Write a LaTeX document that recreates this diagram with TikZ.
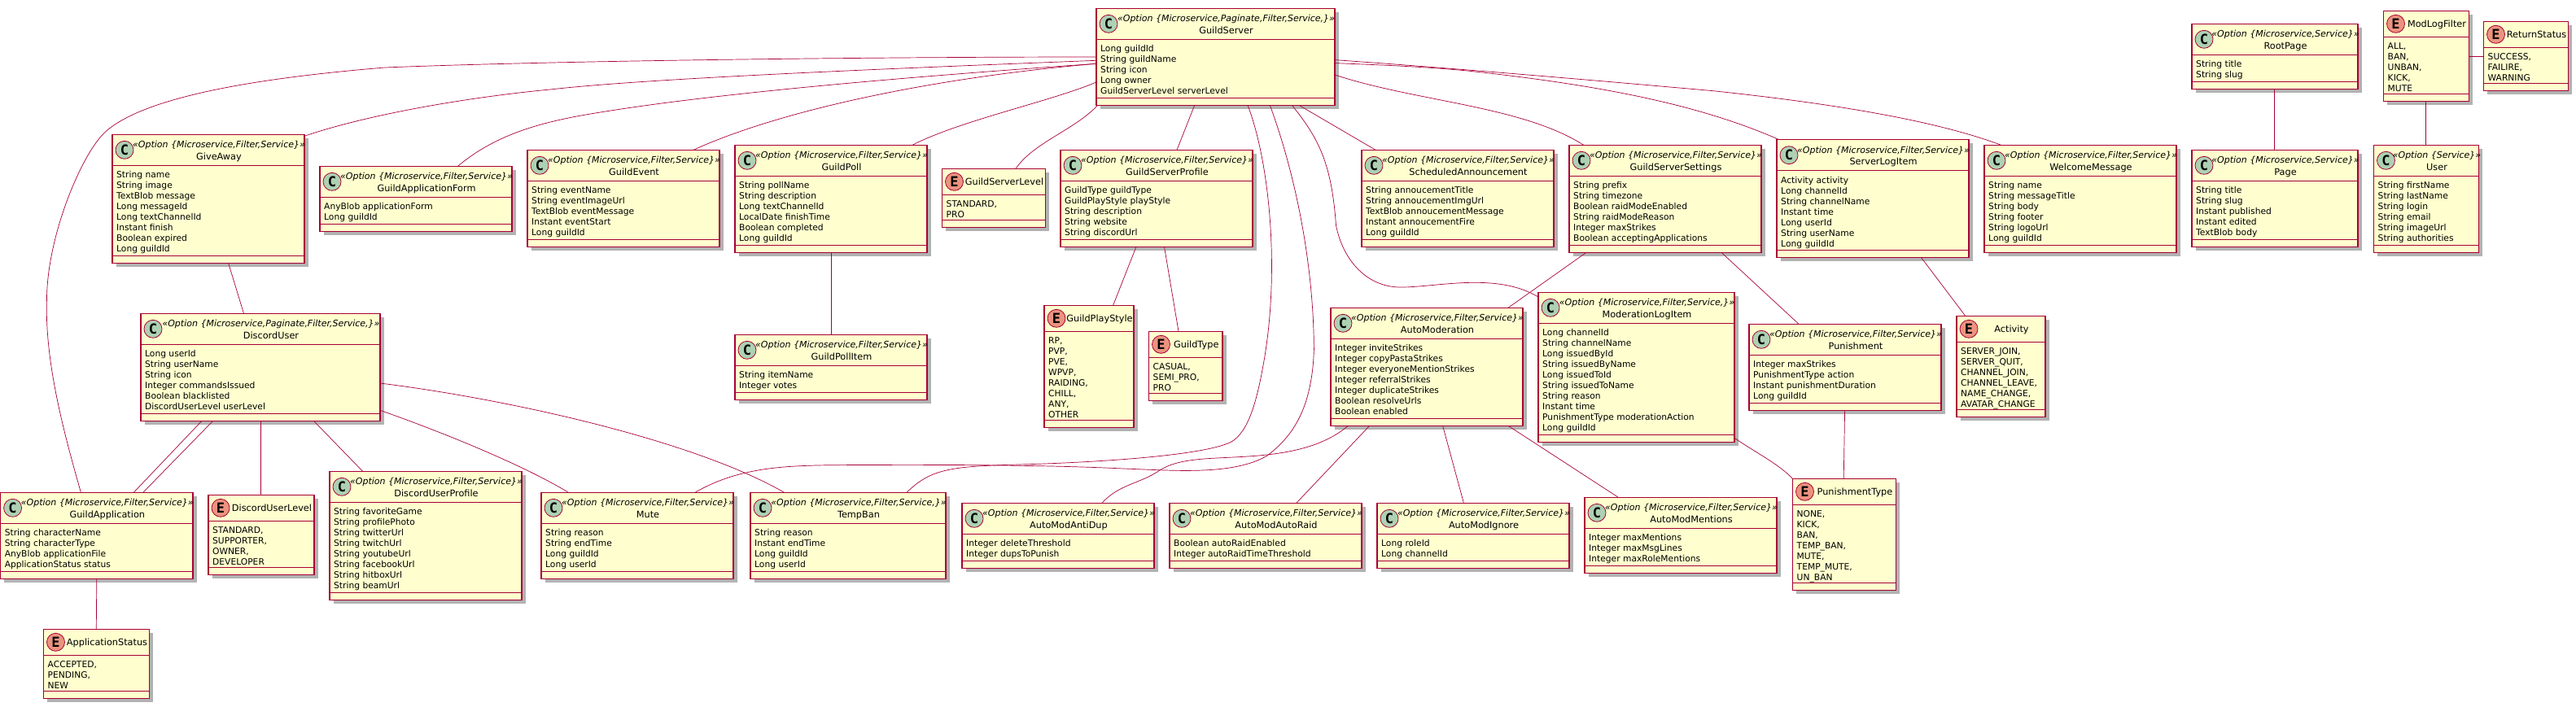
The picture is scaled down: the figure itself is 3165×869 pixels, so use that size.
\documentclass[tikz,border=0pt]{standalone}
\usepackage{fontspec}
\setmainfont{DejaVu Sans}
\setmonofont{DejaVu Sans Mono}
\usetikzlibrary{positioning,shadows}
\definecolor{umlline}{HTML}{A80036}
\definecolor{umlfill}{HTML}{FEFECE}
\definecolor{spotclass}{HTML}{ADD1B2}
\definecolor{spotenum}{HTML}{EB937F}
\newcommand{\classhead}{38pt}
\newcommand{\enumhead}{32pt}
\newcommand{\classfoot}{9pt}
\newcommand{\rowheight}{13pt}
\tikzstyle{umlbody}=[fill=umlfill,draw=umlline,line width=1.1pt,shape=rectangle,anchor=north west,
                     inner sep=0pt,outer sep=0pt,
                     drop shadow={shadow xshift=4.5pt,shadow yshift=-4.5pt,fill=black,opacity=0.3}]
\tikzstyle{umlrule}=[draw=umlline,line width=1.1pt]
\tikzstyle{umlspot}=[shape=circle,draw=umlline,line width=0.8pt,minimum size=22pt,inner sep=0pt,
                     font=\ttfamily\bfseries\fontsize{17}{18}\selectfont]
\tikzstyle{stereo}=[inner sep=0pt,anchor=base,font=\itshape\fontsize{11}{13}\selectfont]
\tikzstyle{umltitle}=[inner sep=0pt,anchor=base,font=\fontsize{11.3}{13}\selectfont]
\tikzstyle{members}=[inner sep=0pt,anchor=north west,align=left,font=\fontsize{10.7}{13}\selectfont]
\tikzstyle{assoc}=[draw=umlline,line width=0.7pt]
\newcommand{\classbox}[8]{
\node [umlbody, minimum width=#4pt, minimum height=\classhead+\classfoot+7pt+#5*\rowheight] (#1) at (#2,#3) {};
\draw [umlrule] ([yshift=-\classhead]#1.north west) -- ([yshift=-\classhead]#1.north east);
\draw [umlrule] ([yshift=\classfoot]#1.south west) -- ([yshift=\classfoot]#1.south east);
\node [umlspot, fill=spotclass] (#1-spot) at ([xshift=15pt,yshift=-19pt]#1.north west) {C};
\node [stereo] (#1-stereo) at ([xshift=13pt,yshift=-16.5pt]#1.north) {«Option \{#6\}»};
\node [umltitle] (#1-title) at ([xshift=13pt,yshift=-31pt]#1.north) {#7};
\node [members] (#1-members) at ([xshift=5pt,yshift=-44pt]#1.north west) {\strut #8};
}
\newcommand{\enumbox}[7]{
\node [umlbody, minimum width=#4pt, minimum height=\enumhead+\classfoot+5pt+#5*\rowheight] (#1) at (#2,#3) {};
\draw [umlrule] ([yshift=-\enumhead]#1.north west) -- ([yshift=-\enumhead]#1.north east);
\draw [umlrule] ([yshift=\classfoot]#1.south west) -- ([yshift=\classfoot]#1.south east);
\node [umlspot, fill=spotenum] (#1-spot) at ([xshift=15pt,yshift=-16pt]#1.north west) {E};
\node [umltitle] (#1-title) at ([xshift=13pt,yshift=-20.5pt]#1.north) {#6};
\node [members] (#1-members) at ([xshift=5pt,yshift=-38pt]#1.north west) {\strut #7};
}
\begin{document}
\begin{tikzpicture}[x=1pt,y=-1pt]
\useasboundingbox (0,0) rectangle (3165,869);

\classbox{GuildServer}{1347}{10.3}{293}{5}{Microservice,Paginate,Filter,Service,}{GuildServer}{Long guildId\\String guildName\\String icon\\Long owner\\GuildServerLevel serverLevel}
\classbox{GiveAway}{138}{165.3}{236}{8}{Microservice,Filter,Service}{GiveAway}{String name\\String image\\TextBlob message\\Long messageId\\Long textChannelId\\Instant finish\\Boolean expired\\Long guildId}
\classbox{GuildApplicationForm}{393}{204.3}{236}{2}{Microservice,Filter,Service}{GuildApplicationForm}{AnyBlob applicationForm\\Long guildId}
\classbox{GuildEvent}{648}{184.3}{236}{5}{Microservice,Filter,Service}{GuildEvent}{String eventName\\String eventImageUrl\\TextBlob eventMessage\\Instant eventStart\\Long guildId}
\classbox{GuildPoll}{903}{178.3}{236}{6}{Microservice,Filter,Service}{GuildPoll}{String pollName\\String description\\Long textChannelId\\LocalDate finishTime\\Boolean completed\\Long guildId}
\classbox{GuildPollItem}{903}{411.3}{236}{2}{Microservice,Filter,Service}{GuildPollItem}{String itemName\\Integer votes}
\enumbox{GuildServerLevel}{1157.5}{207.3}{127}{2}{GuildServerLevel}{STANDARD,\\PRO}
\classbox{GuildServerProfile}{1303}{184.3}{236}{5}{Microservice,Filter,Service}{GuildServerProfile}{GuildType guildType\\GuildPlayStyle playStyle\\String description\\String website\\String discordUrl}
\enumbox{GuildPlayStyle}{1283}{375.3}{110}{8}{GuildPlayStyle}{RP,\\PVP,\\PVE,\\WPVP,\\RAIDING,\\CHILL,\\ANY,\\OTHER}
\enumbox{GuildType}{1411.5}{407.3}{90.5}{3}{GuildType}{CASUAL,\\SEMI\_PRO,\\PRO}
\classbox{ScheduledAnnouncement}{1673}{184.3}{236}{5}{Microservice,Filter,Service}{ScheduledAnnouncement}{String annoucementTitle\\String annoucementImgUrl\\TextBlob annoucementMessage\\Instant annoucementFire\\Long guildId}
\classbox{GuildServerSettings}{1928}{178.3}{236}{6}{Microservice,Filter,Service}{GuildServerSettings}{String prefix\\String timezone\\Boolean raidModeEnabled\\String raidModeReason\\Integer maxStrikes\\Boolean acceptingApplications}
\classbox{ServerLogItem}{2183}{171.7}{236}{7}{Microservice,Filter,Service}{ServerLogItem}{Activity activity\\Long channelId\\String channelName\\Instant time\\Long userId\\String userName\\Long guildId}
\classbox{WelcomeMessage}{2438}{178.3}{236}{6}{Microservice,Filter,Service}{WelcomeMessage}{String name\\String messageTitle\\String body\\String footer\\String logoUrl\\Long guildId}
\classbox{RootPage}{2693}{29.3}{204}{2}{Microservice,Service}{RootPage}{String title\\String slug}
\classbox{Page}{2693}{184.3}{204}{5}{Microservice,Service}{Page}{String title\\String slug\\Instant published\\Instant edited\\TextBlob body}
\enumbox{ModLogFilter}{2928.5}{13.3}{105}{5}{ModLogFilter}{ALL,\\BAN,\\UNBAN,\\KICK,\\MUTE}
\enumbox{ReturnStatus}{3051.5}{26.3}{104}{3}{ReturnStatus}{SUCCESS,\\FAILIRE,\\WARNING}
\classbox{User}{2916.5}{178.3}{129}{6}{Service}{User}{String firstName\\String lastName\\String login\\String email\\String imageUrl\\String authorities}

\classbox{DiscordUser}{173}{385.3}{294}{6}{Microservice,Paginate,Filter,Service,}{DiscordUser}{Long userId\\String userName\\String icon\\Integer commandsIssued\\Boolean blacklisted\\DiscordUserLevel userLevel}
\classbox{GuildApplication}{0.6}{605.3}{236.4}{4}{Microservice,Filter,Service}{GuildApplication}{String characterName\\String characterType\\AnyBlob applicationFile\\ApplicationStatus status}
\enumbox{DiscordUserLevel}{256}{608.3}{130}{4}{DiscordUserLevel}{STANDARD,\\SUPPORTER,\\OWNER,\\DEVELOPER}
\classbox{DiscordUserProfile}{405}{579.3}{236}{8}{Microservice,Filter,Service}{DiscordUserProfile}{String favoriteGame\\String profilePhoto\\String twitterUrl\\String twitchUrl\\String youtubeUrl\\String facebookUrl\\String hitboxUrl\\String beamUrl}
\classbox{Mute}{665}{605.3}{236}{4}{Microservice,Filter,Service}{Mute}{String reason\\String endTime\\Long guildId\\Long userId}
\classbox{TempBan}{922}{605.3}{240}{4}{Microservice,Filter,Service,}{TempBan}{String reason\\Instant endTime\\Long guildId\\Long userId}
\enumbox{ApplicationStatus}{53.5}{773.3}{130}{3}{ApplicationStatus}{ACCEPTED,\\PENDING,\\NEW}
\classbox{AutoModeration}{1635}{378.3}{236}{7}{Microservice,Filter,Service}{AutoModeration}{Integer inviteStrikes\\Integer copyPastaStrikes\\Integer everyoneMentionStrikes\\Integer referralStrikes\\Integer duplicateStrikes\\Boolean resolveUrls\\Boolean enabled}
\classbox{ModerationLogItem}{1890}{359.3}{241}{10}{Microservice,Filter,Service,}{ModerationLogItem}{Long channelId\\String channelName\\Long issuedById\\String issuedByName\\Long issuedToId\\String issuedToName\\String reason\\Instant time\\PunishmentType moderationAction\\Long guildId}
\classbox{AutoModAntiDup}{1182}{618.3}{236}{2}{Microservice,Filter,Service}{AutoModAntiDup}{Integer deleteThreshold\\Integer dupsToPunish}
\classbox{AutoModAutoRaid}{1437}{618.3}{236}{2}{Microservice,Filter,Service}{AutoModAutoRaid}{Boolean autoRaidEnabled\\Integer autoRaidTimeThreshold}
\classbox{AutoModIgnore}{1692}{618.3}{236}{2}{Microservice,Filter,Service}{AutoModIgnore}{Long roleId\\Long channelId}
\classbox{AutoModMentions}{1947}{611.3}{236}{3}{Microservice,Filter,Service}{AutoModMentions}{Integer maxMentions\\Integer maxMsgLines\\Integer maxRoleMentions}
\classbox{Punishment}{2149}{398.3}{236}{4}{Microservice,Filter,Service}{Punishment}{Integer maxStrikes\\PunishmentType action\\Instant punishmentDuration\\Long guildId}
\enumbox{Activity}{2404}{388.3}{109}{6}{Activity}{SERVER\_JOIN,\\SERVER\_QUIT,\\CHANNEL\_JOIN,\\CHANNEL\_LEAVE,\\NAME\_CHANGE,\\AVATAR\_CHANGE}
\enumbox{PunishmentType}{2202.5}{588.3}{127}{7}{PunishmentType}{NONE,\\KICK,\\BAN,\\TEMP\_BAN,\\MUTE,\\TEMP\_MUTE,\\UN\_BAN}

\draw [assoc] ([yshift=-59.7pt]GuildServer.north west) .. controls (1100,70) and (700,74) .. (473,83)
      .. controls (340,94) and (180,115) .. (128.5,163) .. controls (100,190) and (58,290) .. (57.5,367)
      .. controls (55,440) and (75,520) .. ([xshift=98.8pt]GuildApplication.north west);
\draw [assoc] ([yshift=-64pt]GuildServer.north west) .. controls (1100,84) and (800,96) .. (676,110)
      .. controls (590,118) and (460,138) .. ([yshift=-2pt]GiveAway.north east);
\draw [assoc] ([yshift=-68pt]GuildServer.north west) .. controls (1150,92) and (900,112) .. (744,137)
      .. controls (680,147) and (615,160) .. ([xshift=169.5pt]GuildApplicationForm.north west);
\draw [assoc] ([yshift=-68pt]GuildServer.north west) .. controls (1150,95) and (960,135) .. ([xshift=204pt]GuildEvent.north west);
\draw [assoc] ([yshift=-90.7pt]GuildServer.north west) .. controls (1290,125) and (1180,148) .. ([xshift=218pt]GuildPoll.north west);
\draw [assoc] ([xshift=1.7pt]GuildServer.south west) .. controls (1320,160) and (1270,175) .. ([xshift=90.5pt]GuildServerLevel.north west);
\draw [assoc] ([xshift=120.7pt]GuildServer.south west) -- ([xshift=143pt]GuildServerProfile.north west);
\draw [assoc] ([xshift=186pt]GuildServer.south west) .. controls (1560,200) and (1572,330) .. (1553.6,440)
      .. controls (1545,490) and (1535,530) .. (1513,543) .. controls (1480,560) and (1350,568) .. (1263,570.7)
      .. controls (1170,573) and (1145,575) .. ([xshift=192pt]TempBan.north west);
\draw [assoc] ([xshift=213.3pt]GuildServer.south west) .. controls (1590,210) and (1614,320) .. (1614.4,430)
      .. controls (1612,500) and (1590,535) .. (1557,560) .. controls (1515,585) and (1440,578) .. (1380,576)
      .. controls (1300,572) and (1180,571) .. (1060,571.5) .. controls (980,572) and (915,570) .. ([xshift=189pt]Mute.north west);
\draw [assoc] ([xshift=240.4pt]GuildServer.south west) .. controls (1620,170) and (1636,200) .. (1641.5,277)
      .. controls (1650,320) and (1680,355) .. (1725,353) .. controls (1770,352) and (1840,335) .. ([yshift=-5.7pt]ModerationLogItem.north west);
\draw [assoc] ([xshift=249pt]GuildServer.south west) -- ([xshift=17pt]ScheduledAnnouncement.north west);
\draw [assoc] ([yshift=-81.7pt]GuildServer.north east) .. controls (1740,125) and (1870,130) .. ([xshift=17.7pt]GuildServerSettings.north west);
\draw [assoc] ([yshift=-67.3pt]GuildServer.north east) .. controls (1700,80) and (1750,82) .. (1803,87)
      .. controls (1950,103) and (2080,125) .. ([xshift=3pt]ServerLogItem.north west);
\draw [assoc] ([yshift=-63.3pt]GuildServer.north east) .. controls (1800,85) and (1950,98) .. (2105,111.7)
      .. controls (2230,125) and (2370,145) .. ([xshift=20.6pt]WelcomeMessage.north west);

\draw [assoc] ([xshift=142.6pt]GiveAway.south west) -- ([xshift=126.5pt]DiscordUser.north west);
\draw [assoc] ([xshift=75pt]DiscordUser.south west) -- ([xshift=163.7pt]GuildApplication.north west);
\draw [assoc] ([xshift=88.7pt]DiscordUser.south west) -- ([xshift=175.2pt]GuildApplication.north west);
\draw [assoc] ([xshift=147.5pt]DiscordUser.south west) -- ([xshift=64.5pt]DiscordUserLevel.north west);
\draw [assoc] ([xshift=212.4pt]DiscordUser.south west) -- ([xshift=40.6pt]DiscordUserProfile.north west);
\draw [assoc] ([yshift=-119pt]DiscordUser.north east) .. controls (540,530) and (640,570) .. ([xshift=33.4pt]Mute.north west);
\draw [assoc] ([yshift=-85.7pt]DiscordUser.north east) .. controls (620,490) and (850,540) .. ([xshift=41.5pt]TempBan.north west);
\draw [assoc] (GuildApplication.south) -- ([xshift=64.8pt]ApplicationStatus.north west);
\draw [assoc] ([xshift=118pt]GuildPoll.south west) -- ([xshift=118pt]GuildPollItem.north west);
\draw [assoc] ([xshift=93pt]GuildServerProfile.south west) -- ([xshift=84.6pt]GuildPlayStyle.north west);
\draw [assoc] ([xshift=127.5pt]GuildServerProfile.south west) -- ([xshift=36.5pt]GuildType.north west);
\draw [assoc] ([xshift=21pt]GuildServerSettings.south west) -- ([xshift=218pt]AutoModeration.north west);
\draw [assoc] ([xshift=187pt]GuildServerSettings.south west) -- ([xshift=61pt]Punishment.north west);
\draw [assoc] ([xshift=177.6pt]ServerLogItem.south west) -- ([xshift=10.7pt]Activity.north west);
\draw [assoc] ([xshift=101.7pt]RootPage.south west) -- ([xshift=101.7pt]Page.north west);
\draw [assoc] ([xshift=52.1pt]ModLogFilter.south west) -- ([xshift=64.1pt]User.north west);
\draw [assoc] ([yshift=-56pt]ModLogFilter.north east) -- ([yshift=-43pt]ReturnStatus.north west);
\draw [assoc] ([xshift=117.6pt]Punishment.south west) -- ([xshift=62.7pt]PunishmentType.north west);
\draw [assoc] ([yshift=-179pt]ModerationLogItem.north east) .. controls (2155,555) and (2185,570) .. (PunishmentType.north west);
\draw [assoc] ([xshift=21.4pt]AutoModeration.south west) .. controls (1625,550) and (1580,558) .. (1533,561)
      .. controls (1490,564) and (1450,562) .. (1425,578) .. controls (1400,595) and (1375,595) .. ([xshift=172pt]AutoModAntiDup.north west);
\draw [assoc] ([xshift=47.7pt]AutoModeration.south west) -- ([xshift=155.8pt]AutoModAutoRaid.north west);
\draw [assoc] ([xshift=137.6pt]AutoModeration.south west) -- ([xshift=106.4pt]AutoModIgnore.north west);
\draw [assoc] ([xshift=218pt]AutoModeration.south west) -- ([xshift=41.3pt]AutoModMentions.north west);
\end{tikzpicture}
\end{document}
